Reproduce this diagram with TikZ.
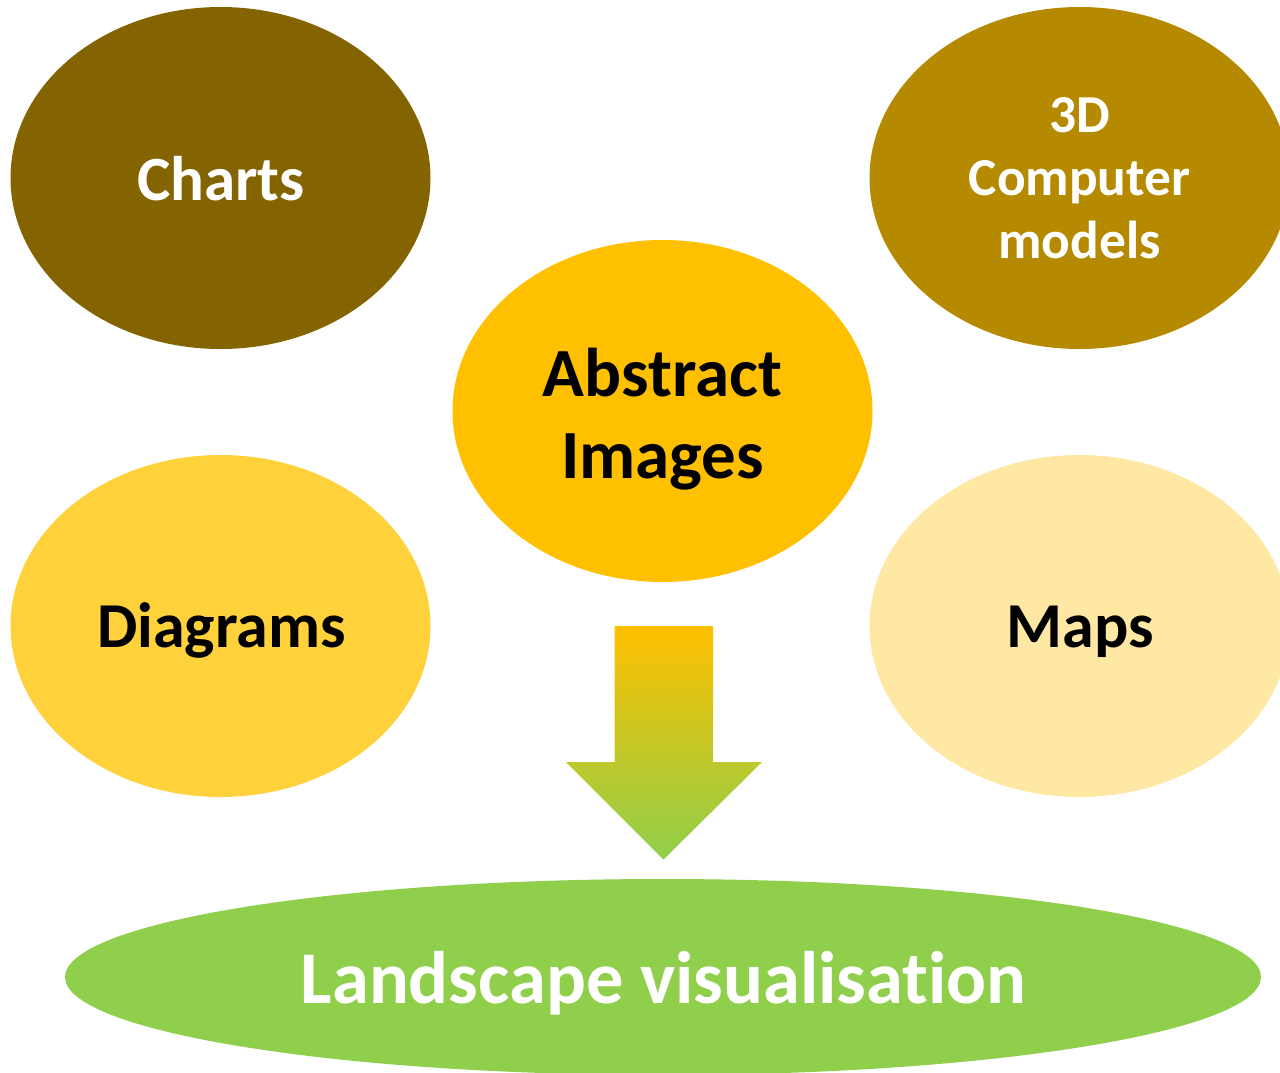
\documentclass[tikz,border=0pt]{standalone}
\usepackage{fontspec}
\setmainfont{Carlito}[RawFeature=-liga]
\usetikzlibrary{shapes.geometric}
\definecolor{cCharts}{HTML}{846400}
\definecolor{cThreeD}{HTML}{B58A00}
\definecolor{cAbs}{HTML}{FFC000}
\definecolor{cDiag}{HTML}{FFD13B}
\definecolor{cMaps}{HTML}{FFE8A3}
\definecolor{cLand}{HTML}{8FCF4B}
\tikzset{
  blob/.style={ellipse, inner sep=0pt, minimum width=420pt, minimum height=342pt},
  txt/.style={inner sep=0pt, align=center},
}
\begin{document}
\begin{tikzpicture}[x=1pt,y=-1pt]
\useasboundingbox (0,0) rectangle (1280,1072);
\clip (0,0) rectangle (1280,1072);
\node[blob, fill=cCharts] (charts) at (220.5,178) {};
\node[blob, fill=cThreeD] (threed) at (1079.5,178) {};
\node[blob, fill=cAbs] (abs) at (662.5,411) {};
\node[blob, fill=cDiag] (diag) at (220.5,626) {};
\node[blob, fill=cMaps] (maps) at (1079.5,626) {};
\node[ellipse, inner sep=0pt, minimum width=1196pt, minimum height=196pt, fill=cLand] (land) at (663,977) {};
\node[txt, anchor=base, text=white, font=\bfseries\fontsize{63}{70}\selectfont] (chartsT) at (221,200) {Charts};
\node[txt, text=white, font=\bfseries\fontsize{53.4}{63}\selectfont] (threedT) at (1079.5,178) {3D\\Computer\\models};
\node[txt, text=black, font=\bfseries\fontsize{69}{82}\selectfont] (absT) at (662.5,419) {Abstract\\Images};
\node[txt, anchor=base, text=black, font=\bfseries\fontsize{64}{70}\selectfont] (diagT) at (221.5,647) {Diagrams};
\node[txt, anchor=base, text=black, font=\bfseries\fontsize{64}{70}\selectfont] (mapsT) at (1080,647) {Maps};
\node[txt, anchor=base, text=white, font=\bfseries\fontsize{74.4}{80}\selectfont] (landT) at (663.5,1003) {Landscape visualisation};
\path[top color=cAbs, bottom color=cLand, shading angle=0]
  (614.5,626) -- (713,626) -- (713,762) -- (762,762) -- (663.5,859.5) -- (566,762) -- (614.5,762) -- cycle;
\end{tikzpicture}
\end{document}
